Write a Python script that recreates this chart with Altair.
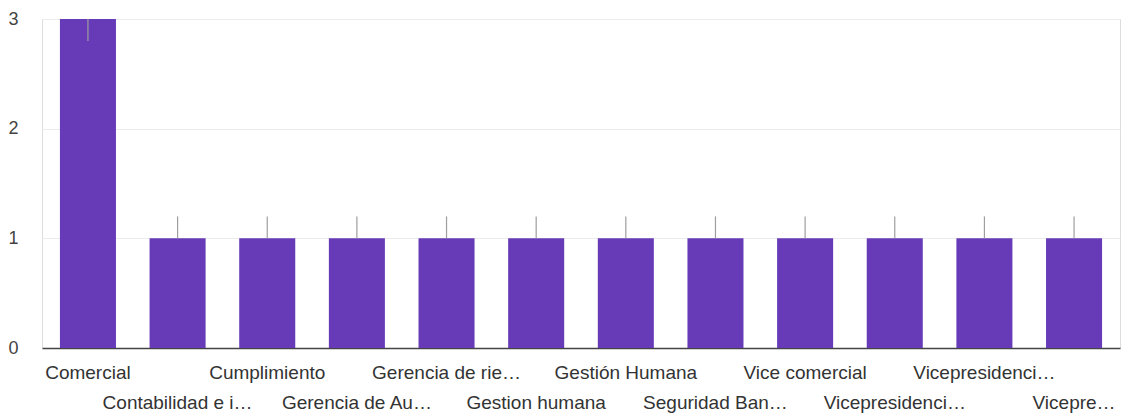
import altair as alt
import pandas as pd

# Category labels as displayed (already shortened with an ellipsis)
labels = [
    "Comercial", "Contabilidad e i…", "Cumplimiento", "Gerencia de Au…",
    "Gerencia de rie…", "Gestion humana", "Gestión Humana", "Seguridad Ban…",
    "Vice comercial", "Vicepresidenci…", "Vicepresidenci…", "Vicepre…",
]
counts = [3, 1, 1, 1, 1, 1, 1, 1, 1, 1, 1, 1]
whisker_low = [2.8, 1, 1, 1, 1, 1, 1, 1, 1, 1, 1, 1]
whisker_high = [3, 1.2, 1.2, 1.2, 1.2, 1.2, 1.2, 1.2, 1.2, 1.2, 1.2, 1.2]
y_ticks = [0, 0.5, 1, 1.5, 2, 2.5, 3]

W, H = 1078, 329
FONT = "Liberation Sans"
PURPLE = "#673ab7"

df = pd.DataFrame({
    "key": [f"k{i:02d}" for i in range(len(labels))],
    "label": labels,
    "count": counts,
    "lo": whisker_low,
    "hi": whisker_high,
    "row": [i % 2 for i in range(len(labels))],
})
order = list(df["key"])

x = alt.X(
    "key:N", sort=order, title=None,
    scale=alt.Scale(paddingInner=0.375, paddingOuter=0.2),
    axis=alt.Axis(labels=False, ticks=False, domainColor="#444444", domainWidth=1.5, grid=False),
)
y_scale = alt.Scale(domain=[0, 3], nice=False)

bars = alt.Chart(df).mark_bar(color=PURPLE).encode(
    x=x,
    y=alt.Y(
        "count:Q", scale=y_scale, title=None,
        axis=alt.Axis(
            values=y_ticks, format="d",
            labelExpr="datum.value % 1 == 0 ? datum.label : ''",
            ticks=False, domain=False,
            gridColor="#ececec", gridWidth=1,
            labelFont=FONT, labelFontSize=18, labelColor="#444444",
            labelPadding=24,
        ),
    ),
)

whiskers = alt.Chart(df).mark_rule(color="#9e9e9e", strokeWidth=1.2).encode(
    x=alt.X("key:N", sort=order),
    y=alt.Y("lo:Q", scale=y_scale),
    y2="hi:Q",
)

text_base = alt.Chart(df).mark_text(
    font=FONT, fontSize=19, color="#333333", baseline="middle", align="center"
)
row1 = text_base.transform_filter("datum.row == 0").encode(
    x=alt.X("key:N", sort=order), y=alt.value(H + 25), text="label:N"
)
row2 = text_base.transform_filter("datum.row == 1").encode(
    x=alt.X("key:N", sort=order), y=alt.value(H + 55), text="label:N"
)

chart = (
    alt.layer(bars, whiskers, row1, row2)
    .properties(
        width=W, height=H,
        autosize=alt.AutoSizeParams(type="none"),
        padding={"left": 42, "top": 19, "right": 5, "bottom": 67},
    )
    .configure_view(stroke="#ececec")
    .configure(background="white")
)

chart.save("out.html", embed_options={"renderer": "svg", "actions": False})
